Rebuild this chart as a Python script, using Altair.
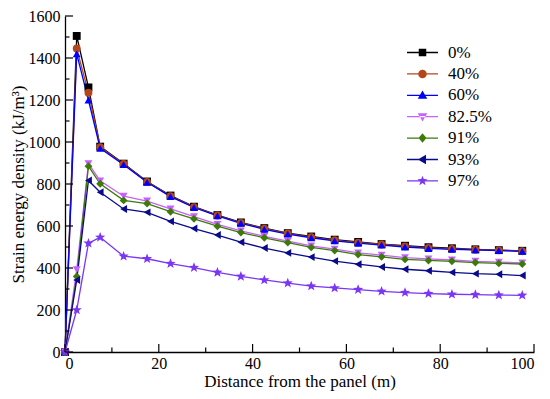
import math
import altair as alt
import pandas as pd

# ---- data ----
distance = [0, 2.5, 5, 7.5, 12.5, 17.5, 22.5, 27.5, 32.5, 37.5, 42.5, 47.5,
            52.5, 57.5, 62.5, 67.5, 72.5, 77.5, 82.5, 87.5, 92.5, 97.5]
series_names = ["0%", "40%", "60%", "82.5%", "91%", "93%", "97%"]
s0 = [0, 1505, 1260, 978, 897, 812, 745, 692, 652, 617, 590, 566, 550, 535, 524, 514, 506, 499, 494, 489, 485, 482]
s40 = [0, 1445, 1235, 975, 895, 810, 742, 690, 650, 615, 587, 564, 547, 532, 521, 512, 503, 496, 491, 487, 484, 480]
s60 = [0, 1420, 1200, 970, 892, 808, 740, 688, 648, 613, 584, 561, 544, 529, 518, 509, 500, 493, 489, 486, 483, 479]
s825 = [0, 392, 897, 815, 742, 719, 681, 645, 608, 577, 551, 528, 505, 490, 472, 461, 449, 443, 438, 432, 428, 424]
s91 = [0, 360, 885, 801, 722, 707, 668, 634, 599, 569, 544, 521, 498, 483, 464, 453, 441, 436, 432, 426, 422, 419]
s93 = [0, 343, 817, 761, 681, 665, 622, 588, 557, 523, 495, 472, 452, 433, 418, 405, 394, 387, 379, 373, 370, 364]
s97 = [0, 200, 518, 546, 456, 444, 421, 402, 379, 360, 343, 328, 314, 305, 297, 289, 283, 278, 275, 273, 271, 270]
all_series = [s0, s40, s60, s825, s91, s93, s97]

x_major = [0, 20, 40, 60, 80, 100]
x_minor = [10, 30, 50, 70, 90]
y_major = [0, 200, 400, 600, 800, 1000, 1200, 1400, 1600]
y_minor = [100, 300, 500, 700, 900, 1100, 1300, 1500]

colors = ["#000000", "#B5461A", "#0000FF", "#C660FF", "#3D7A0A", "#0A0A8C", "#7A35F5"]


def star_path(R, ri=0.42):
    pts = []
    for k in range(10):
        r = R if k % 2 == 0 else R * ri
        a = -math.pi / 2 + k * math.pi / 5
        pts.append(f"{r * math.cos(a):.3f},{r * math.sin(a):.3f}")
    return "M" + "L".join(pts) + "Z"


data_shapes = ["square", "circle", "triangle-up", "triangle-down", "diamond",
               "triangle-left", star_path(1.35)]

# legend glyph: a thin filled bar (the line) plus the marker
LINE = "M-3.1,-0.13H3.1V0.13H-3.1Z"
legend_shapes = [
    LINE + "M-0.75,-0.75H0.75V0.75H-0.75Z",
    LINE + "M0.85,0A0.85,0.85 0 1,1 -0.85,0A0.85,0.85 0 1,1 0.85,0Z",
    LINE + "M0,-0.95L0.95,0.7L-0.95,0.7Z",
    LINE + "M0,0.95L0.95,-0.7L-0.95,-0.7Z",
    LINE + "M0,-0.95L0.8,0L0,0.95L-0.8,0Z",
    LINE + "M-0.95,0L0.7,-0.95L0.7,0.95Z",
    LINE + star_path(1.05),
]

rows = []
for name, vals in zip(series_names, all_series):
    for xv, yv in zip(distance, vals):
        rows.append({"series": name, "x": xv, "y": yv})
df = pd.DataFrame(rows)

FONT = "Liberation Serif"

xscale = alt.Scale(domain=[0, 100], nice=False)
yscale = alt.Scale(domain=[0, 1600], nice=False)


def cscale():
    return alt.Scale(domain=series_names, range=colors)


xaxis = alt.Axis(title="Distance from the panel (m)", values=x_major, ticks=False,
                 grid=False, labelPadding=3, titlePadding=2, format="d", titleFontSize=17)
yaxis = alt.Axis(title="Strain energy density (kJ/m³)", values=y_major, ticks=False,
                 grid=False, labelPadding=5, titlePadding=1, format="d", titleFontSize=17)

base = alt.Chart(df)

lines = base.mark_line(strokeWidth=1.3).encode(
    x=alt.X("x:Q", scale=xscale, axis=xaxis),
    y=alt.Y("y:Q", scale=yscale, axis=yaxis),
    color=alt.Color("series:N", scale=cscale(), legend=None),
    detail="series:N",
)

points = base.mark_point(filled=True, size=62, opacity=1).encode(
    x=alt.X("x:Q", scale=xscale),
    y=alt.Y("y:Q", scale=yscale),
    color=alt.Color("series:N", scale=cscale(), legend=None),
    shape=alt.Shape("series:N", scale=alt.Scale(domain=series_names, range=data_shapes), legend=None),
)

leg = alt.Legend(title=None, orient="none", legendX=349, legendY=28, padding=0,
                 symbolSize=100, symbolStrokeWidth=0, symbolOpacity=1,
                 labelFont=FONT, labelFontSize=17, labelColor="black",
                 labelOffset=17, rowPadding=3.4)

legend_layer = base.mark_point(filled=True, opacity=0).encode(
    x=alt.X("x:Q", scale=xscale),
    y=alt.Y("y:Q", scale=yscale),
    color=alt.Color("series:N", scale=cscale(), legend=leg),
    shape=alt.Shape("series:N", scale=alt.Scale(domain=series_names, range=legend_shapes), legend=leg),
)

xmaj = alt.Chart(pd.DataFrame({"v": x_major})).mark_rule(color="black", strokeWidth=1.2, y2Offset=-8).encode(
    x=alt.X("v:Q", scale=xscale), y=alt.datum(0), y2=alt.datum(0))
xmin = alt.Chart(pd.DataFrame({"v": x_minor})).mark_rule(color="black", strokeWidth=1.2, y2Offset=-4.5).encode(
    x=alt.X("v:Q", scale=xscale), y=alt.datum(0), y2=alt.datum(0))
ymaj = alt.Chart(pd.DataFrame({"v": y_major})).mark_rule(color="black", strokeWidth=1.2, x2Offset=8).encode(
    y=alt.Y("v:Q", scale=yscale), x=alt.datum(0), x2=alt.datum(0))
ymin = alt.Chart(pd.DataFrame({"v": y_minor})).mark_rule(color="black", strokeWidth=1.2, x2Offset=4.5).encode(
    y=alt.Y("v:Q", scale=yscale), x=alt.datum(0), x2=alt.datum(0))

chart = alt.layer(lines, points, legend_layer, xmaj, xmin, ymaj, ymin).resolve_scale(
    shape="independent", color="independent"
).properties(
    width=469, height=336,
    autosize=alt.AutoSizeParams(type="none"),
    padding={"left": 57, "top": 8, "right": 8, "bottom": 39},
).configure_view(stroke=None).configure_axis(
    labelFont=FONT, labelFontSize=16, labelColor="black",
    titleFont=FONT, titleFontSize=16, titleFontWeight="normal", titleColor="black",
    domainColor="black", domainWidth=1.3,
)

chart.save("out.html", embed_options={"renderer": "svg", "actions": False})
